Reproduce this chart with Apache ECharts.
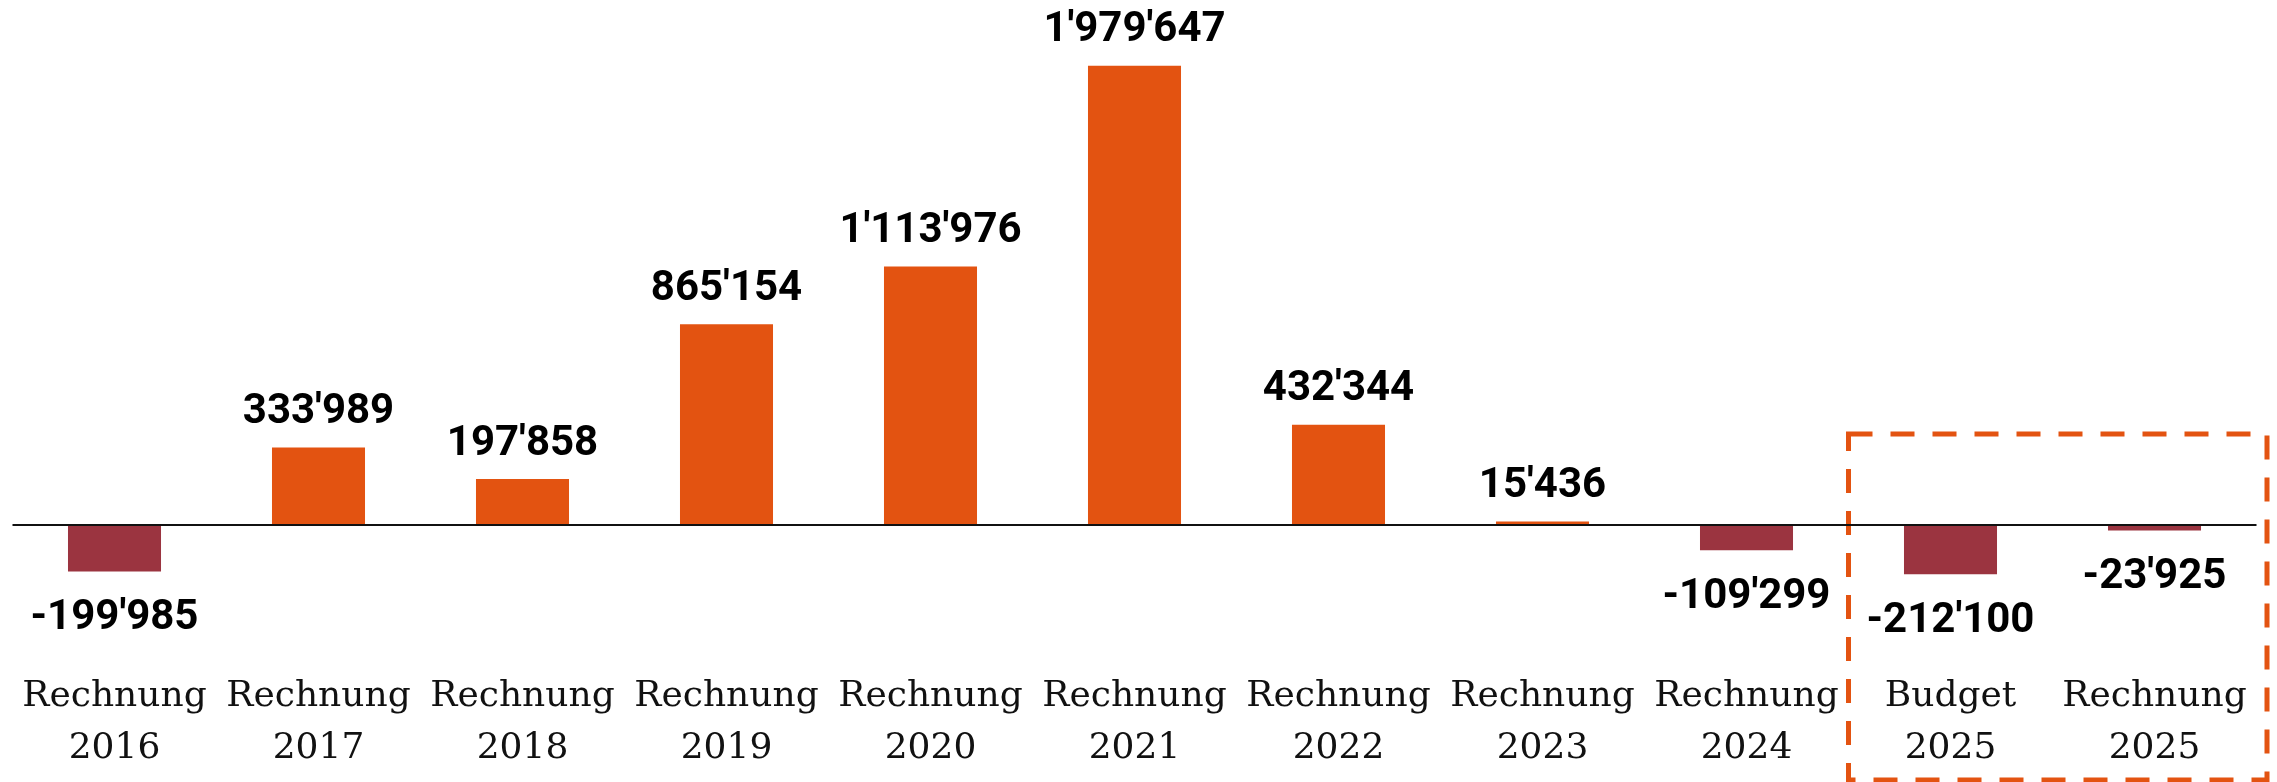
<!DOCTYPE html>
<html>
<head>
<meta charset="utf-8">
<script src="https://cdn.jsdelivr.net/npm/echarts@6/dist/echarts.min.js"></script>
<style>
  html, body { margin: 0; padding: 0; background: #fff; }
  #main { width: 2277px; height: 782px; }
</style>
</head>
<body>
<div id="main"></div>
<script>
// Kategorien und Werte
var kinds = ['Rechnung', 'Rechnung', 'Rechnung', 'Rechnung', 'Rechnung', 'Rechnung', 'Rechnung', 'Rechnung', 'Rechnung', 'Budget', 'Rechnung'];
var years = ['2016', '2017', '2018', '2019', '2020', '2021', '2022', '2023', '2024', '2025', '2025'];
var values = [-199985, 333989, 197858, 865154, 1113976, 1979647, 432344, 15436, -109299, -212100, -23925];

var posColor = '#E35311', negColor = '#9B3440', boxColor = '#E35311';

function fmt(v) {
    var s = String(Math.abs(v)).replace(/\B(?=(\d{3})+(?!\d))/g, "'");
    return (v < 0 ? '-' : '') + s;
}

var cats = kinds.map(function (k, i) { return k + '\n' + years[i]; });
var barData = values.map(function (v) {
    return {
        value: v,
        itemStyle: { color: v < 0 ? negColor : posColor },
        label: { position: v < 0 ? 'bottom' : 'top', distance: v < 0 ? 26 : 14 }
    };
});

var myChart = echarts.init(document.getElementById('main'));
var option = {
    animation: false,
    grid: { left: 12.5, right: 20.5, top: 61, bottom: 141 },
    xAxis: {
        type: 'category',
        data: cats,
        axisLine: { show: false, onZero: false },
        axisTick: { show: false },
        axisLabel: {
            interval: 0,
            margin: 30,
            color: '#111',
            fontFamily: 'DejaVu Serif',
            fontSize: 36,
            lineHeight: 52
        }
    },
    yAxis: {
        type: 'value',
        min: -500000,
        max: 2000000,
        show: false,
        splitLine: { show: false }
    },
    series: [{
        type: 'bar',
        data: barData,
        barWidth: '45.6%',
        label: {
            show: true,
            color: '#000',
            fontFamily: 'Roboto',
            fontWeight: 'bold',
            fontSize: 42,
            formatter: function (p) { return fmt(p.value); }
        },
        markLine: {
            silent: true,
            symbol: 'none',
            label: { show: false },
            lineStyle: { color: '#111', width: 2, type: 'solid' },
            data: [{ yAxis: 0 }]
        }
    }]
};
myChart.setOption(option);

// gestrichelter Rahmen um die 2025-Werte
var band = (2277 - 12.5 - 20.5) / cats.length;
var x0 = myChart.convertToPixel({ xAxisIndex: 0 }, cats.length - 2) - band / 2;
myChart.setOption({
    graphic: [{
        type: 'rect',
        shape: { x: x0, y: 434, width: 2267 - x0, height: 346 },
        style: { fill: null, stroke: boxColor, lineWidth: 5, lineDash: [24, 18] }
    }]
});
</script>
</body>
</html>
